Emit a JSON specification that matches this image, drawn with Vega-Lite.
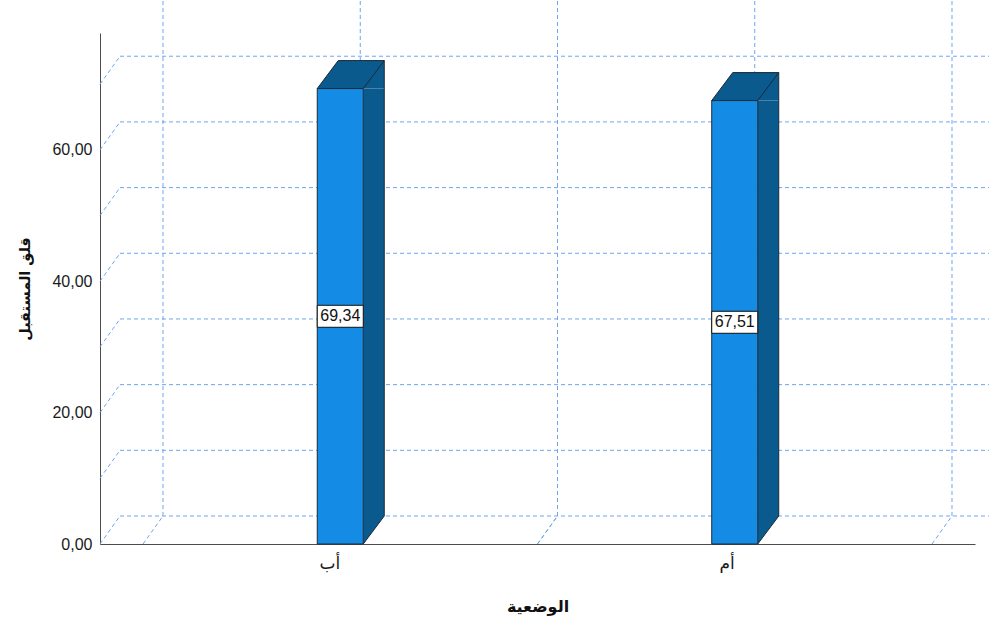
{
  "$schema": "https://vega.github.io/schema/vega-lite/v6.json",
  "width": 875,
  "height": 511,
  "autosize": {"type": "none"},
  "padding": {"left": 100, "top": 33, "right": 14, "bottom": 82},
  "background": "white",
  "config": {
    "view": {"stroke": null},
    "locale": {"number": {"decimal": ",", "thousands": ".", "grouping": [3], "currency": ["", ""]}},
    "axis": {"labelFont": "Liberation Sans, DejaVu Sans", "titleFont": "DejaVu Sans, Liberation Sans", "labelColor": "#1a1a1a", "titleColor": "#111", "domainColor": "#4d4d4d", "grid": false, "ticks": false}
  },
  "datasets": {
    "bars": [
      {"group": "أب", "value": 69.34},
      {"group": "أم", "value": 67.51}
    ],
    "grid": [{"v": 0}, {"v": 10}, {"v": 20}, {"v": 30}, {"v": 40}, {"v": 50}, {"v": 60}, {"v": 70}]
  },
  "layer": [
    {
      "data": {"name": "grid"},
      "mark": {"type": "rule", "color": "#6ea5f2", "strokeDash": [4, 3], "strokeWidth": 1, "xOffset": 20, "x2Offset": 34, "yOffset": -28, "y2Offset": -28},
      "encoding": {
        "x": {"value": 0},
        "x2": {"value": {"expr": "width"}},
        "y": {"field": "v", "type": "quantitative", "scale": {"domain": [0, 77.8], "nice": false, "zero": true}, "title": "قلق المستقبل",
          "axis": {"values": [0, 20, 40, 60], "format": ".2f", "labelFontSize": 16, "labelPadding": 8, "titleFontSize": 14.5, "titleFontWeight": "bold", "titlePadding": 19, "domainWidth": 1}},
        "y2": {"field": "v"}
      }
    },
    {
      "data": {"name": "grid"},
      "mark": {"type": "rule", "color": "#6ea5f2", "strokeDash": [4, 3], "strokeWidth": 1, "x2Offset": 20, "y2Offset": -28},
      "encoding": {
        "x": {"value": 0},
        "x2": {"value": 0},
        "y": {"field": "v", "type": "quantitative", "title": "قلق المستقبل"},
        "y2": {"field": "v"}
      }
    },
    {
      "data": {"name": "bars"},
      "mark": {"type": "rule", "color": "#6ea5f2", "strokeDash": [4, 3], "strokeWidth": 1, "xOffset": 20, "yOffset": -28, "y2Offset": -33},
      "encoding": {
        "x": {"field": "group", "type": "nominal", "bandPosition": 0, "title": "الوضعية"},
        "y": {"datum": 0, "type": "quantitative", "title": "قلق المستقبل"},
        "y2": {"datum": 77.8}
      }
    },
    {
      "data": {"name": "bars"},
      "mark": {"type": "rule", "color": "#6ea5f2", "strokeDash": [4, 3], "strokeWidth": 1, "xOffset": 20, "yOffset": -28, "y2Offset": -33},
      "encoding": {
        "x": {"field": "group", "type": "nominal", "bandPosition": 0.5, "title": "الوضعية"},
        "y": {"datum": 0, "type": "quantitative", "title": "قلق المستقبل"},
        "y2": {"datum": 77.8}
      }
    },
    {
      "data": {"name": "bars"},
      "mark": {"type": "rule", "color": "#6ea5f2", "strokeDash": [4, 3], "strokeWidth": 1, "xOffset": 20, "yOffset": -28, "y2Offset": -33},
      "encoding": {
        "x": {"field": "group", "type": "nominal", "bandPosition": 1, "title": "الوضعية"},
        "y": {"datum": 0, "type": "quantitative", "title": "قلق المستقبل"},
        "y2": {"datum": 77.8}
      }
    },
    {
      "data": {"name": "bars"},
      "mark": {"type": "rule", "color": "#6ea5f2", "strokeDash": [4, 3], "strokeWidth": 1, "x2Offset": 20, "y2Offset": -28},
      "encoding": {
        "x": {"field": "group", "type": "nominal", "bandPosition": 0, "title": "الوضعية"},
        "x2": {"field": "group", "bandPosition": 0},
        "y": {"datum": 0, "type": "quantitative", "title": "قلق المستقبل"},
        "y2": {"datum": 0}
      }
    },
    {
      "data": {"name": "bars"},
      "mark": {"type": "rule", "color": "#6ea5f2", "strokeDash": [4, 3], "strokeWidth": 1, "x2Offset": 20, "y2Offset": -28},
      "encoding": {
        "x": {"field": "group", "type": "nominal", "bandPosition": 1, "title": "الوضعية"},
        "x2": {"field": "group", "bandPosition": 1},
        "y": {"datum": 0, "type": "quantitative", "title": "قلق المستقبل"},
        "y2": {"datum": 0}
      }
    },
    {
      "data": {"name": "bars"},
      "mark": {"type": "bar", "width": 21, "xOffset": 33.5, "y2Offset": -28, "fill": "#0a5a8e", "strokeWidth": 0},
      "encoding": {
        "x": {"field": "group", "type": "nominal", "title": "الوضعية"},
        "y": {"field": "value", "type": "quantitative", "title": "قلق المستقبل"},
        "y2": {"datum": 0}
      }
    },
    {
      "data": {"name": "bars"},
      "mark": {"type": "point", "shape": "M 23 -28 L 44 -28 L 23 0 Z", "size": 4, "filled": true, "fill": "#0a5a8e", "opacity": 1, "strokeWidth": 0},
      "encoding": {
        "x": {"field": "group", "type": "nominal", "title": "الوضعية"},
        "y": {"datum": 0, "type": "quantitative", "title": "قلق المستقبل"}
      }
    },
    {
      "data": {"name": "bars"},
      "mark": {"type": "point", "shape": "M -23 0 L -2 -28 L 44 -28 L 44 0 L 23 0 Z", "size": 4, "filled": true, "fill": "#0a5a8e", "opacity": 1, "strokeWidth": 0},
      "encoding": {
        "x": {"field": "group", "type": "nominal", "title": "الوضعية"},
        "y": {"field": "value", "type": "quantitative", "title": "قلق المستقبل"}
      }
    },
    {
      "data": {"name": "bars"},
      "mark": {"type": "point", "shape": "M -23 0 L -2 -28 L 44 -28 L 23 0 Z", "size": 4, "filled": false, "fill": null, "stroke": "#1b2a38", "opacity": 1, "strokeWidth": 1},
      "encoding": {
        "x": {"field": "group", "type": "nominal", "title": "الوضعية"},
        "y": {"field": "value", "type": "quantitative", "title": "قلق المستقبل"}
      }
    },
    {
      "data": {"name": "bars"},
      "mark": {"type": "point", "shape": "M 23 0 L 44 -28", "size": 4, "filled": false, "fill": null, "stroke": "#1b2a38", "opacity": 1, "strokeWidth": 1},
      "encoding": {
        "x": {"field": "group", "type": "nominal", "title": "الوضعية"},
        "y": {"datum": 0, "type": "quantitative", "title": "قلق المستقبل"}
      }
    },
    {
      "data": {"name": "bars"},
      "mark": {"type": "rule", "color": "#1b2a38", "strokeWidth": 1, "xOffset": 44, "yOffset": -28, "y2Offset": -28},
      "encoding": {
        "x": {"field": "group", "type": "nominal", "title": "الوضعية"},
        "y": {"field": "value", "type": "quantitative", "title": "قلق المستقبل"},
        "y2": {"datum": 0}
      }
    },
    {
      "data": {"name": "bars"},
      "mark": {"type": "bar", "width": 46, "fill": "#148ce6", "stroke": "#1b2a38", "strokeWidth": 1},
      "encoding": {
        "x": {"field": "group", "type": "nominal", "title": "الوضعية",
          "scale": {"paddingInner": 0, "paddingOuter": 0.109},
          "axis": {"labelAngle": 0, "labelFontSize": 17, "labelPadding": 19, "titleFontSize": 16, "titleFontWeight": "bold", "titlePadding": 27, "domainWidth": 1}},
        "y": {"field": "value", "type": "quantitative", "title": "قلق المستقبل"},
        "y2": {"datum": 0}
      }
    },
    {
      "data": {"name": "bars"},
      "transform": [{"calculate": "datum.value / 2", "as": "mid"}],
      "mark": {"type": "point", "shape": "M -23 -11 L 23 -11 L 23 11 L -23 11 Z", "size": 4, "filled": true, "fill": "white", "stroke": "#111", "strokeWidth": 1, "opacity": 1},
      "encoding": {
        "x": {"field": "group", "type": "nominal", "title": "الوضعية"},
        "y": {"field": "mid", "type": "quantitative", "title": "قلق المستقبل"}
      }
    },
    {
      "data": {"name": "bars"},
      "transform": [{"calculate": "datum.value / 2", "as": "mid"}],
      "mark": {"type": "text", "font": "Liberation Sans", "fontSize": 16, "color": "#111", "align": "center", "baseline": "middle"},
      "encoding": {
        "x": {"field": "group", "type": "nominal", "title": "الوضعية"},
        "y": {"field": "mid", "type": "quantitative", "title": "قلق المستقبل"},
        "text": {"field": "value", "type": "quantitative", "format": ".2f"}
      }
    }
  ]
}
